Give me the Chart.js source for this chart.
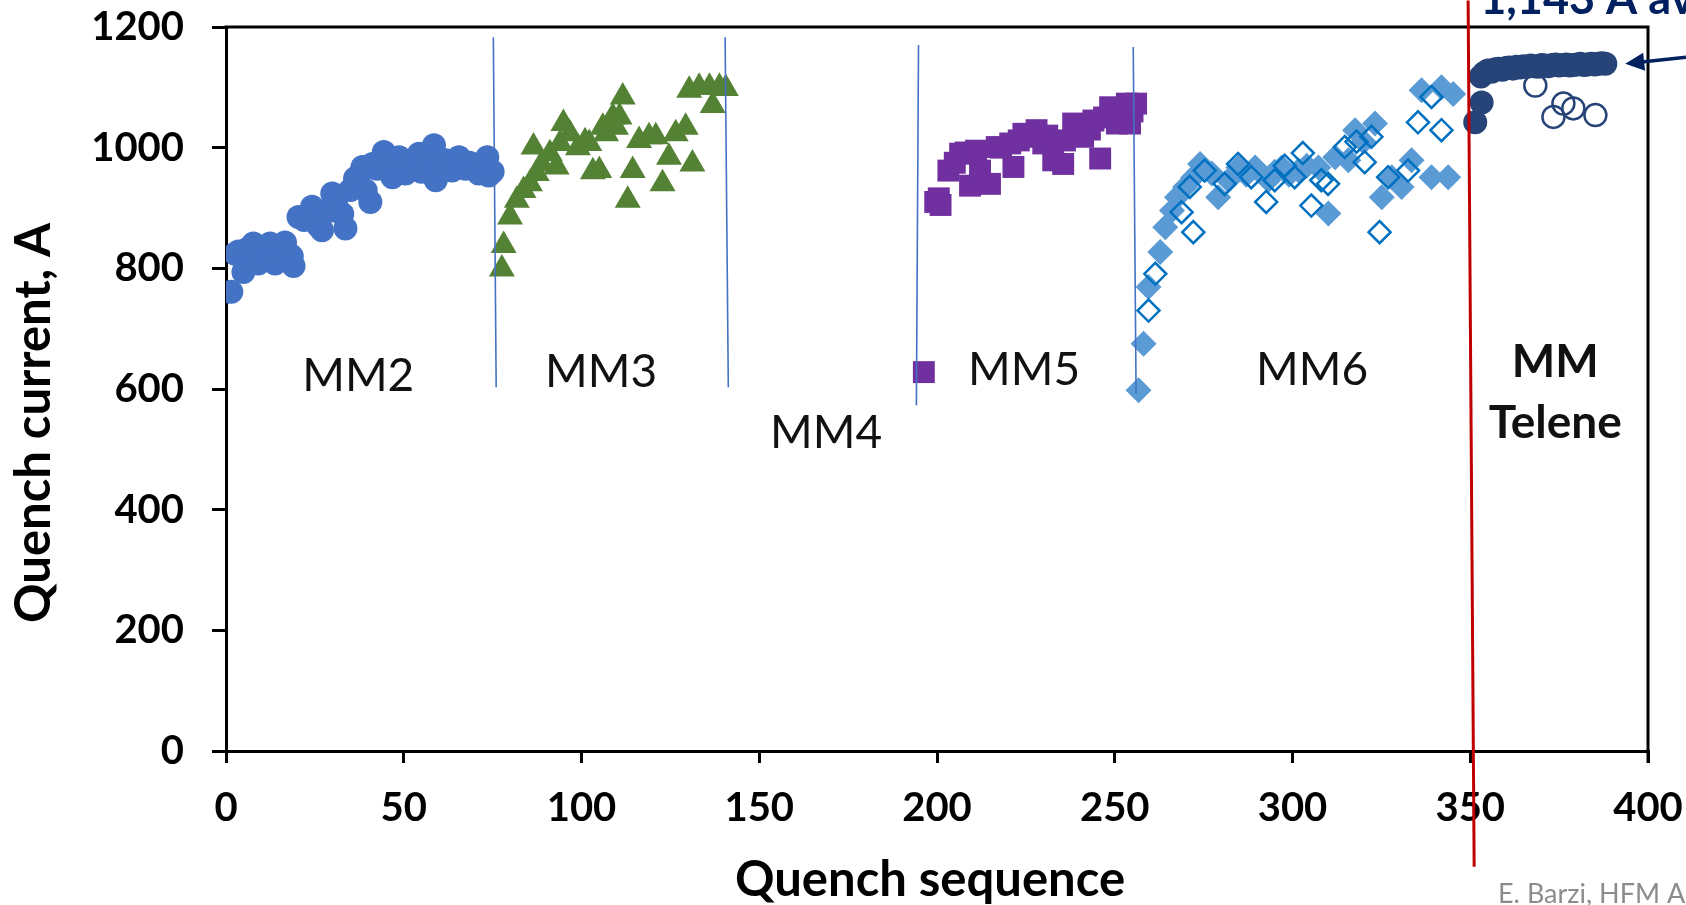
<!DOCTYPE html>
<html>
<head>
<meta charset="utf-8">
<script src="https://cdn.jsdelivr.net/npm/chart.js@4.4.0/dist/chart.umd.min.js"></script>
<style>
  html, body { margin: 0; padding: 0; background: #fff; }
  #wrap { width: 1686px; height: 905px; position: relative; }
</style>
</head>
<body>
<div id="wrap"><canvas id="chart"></canvas></div>
<script>
// axis ranges / ticks
const xRange = [0, 400];
const yRange = [0, 1200];
const xStep = 50;
const yStep = 200;

// quench data [sequence, current A]
const mm2Points = [
  [1.5,761],[2.6,824],[3.5,828],[4.9,794],[6,832],[7.7,841],[8.5,820],[9.1,808],[10.5,830],[11.6,824],
  [12.4,841],[13.8,808],[15,830],[16.6,843],[17.5,825],[18.5,820],[19,804],[20.4,885],[22,880],[24.2,902],
  [25.1,880],[26,870],[27,863],[28,895],[29.4,896],[29.9,924],[31,905],[32.7,890],[33.6,866],[35,930],
  [36.3,949],[37.5,955],[38.4,968],[39.3,929],[40.6,910],[41.2,973],[42.5,965],[44.4,993],[45.5,970],[46.8,951],
  [48.7,984],[50.5,957],[51.5,975],[52.4,979],[54.3,990],[55,960],[56.2,973],[57.5,985],[58.5,1004],[59,946],
  [60.5,970],[61.8,979],[63.6,962],[64.5,975],[65.5,984],[67.4,965],[68.5,975],[69.2,973],[71.1,957],[72,968],
  [73.5,984],[73.9,954],[75,960]
];
const mm3Points = [
  [77.6,799],[78.1,838],[79.9,885],[81.8,913],[83.7,929],[85.5,940],[86.5,1001],[87.4,957],[88.8,973],[91.1,990],
  [93,968],[94,1007],[94.9,1040],[96.7,1023],[99,1000],[101,1010],[102.2,1007],[103.2,960],[105,962],[106,1034],
  [106.9,1023],[108.8,1051],[109.7,1034],[110.7,1051],[111.6,1084],[113,913],[114.4,962],[116.2,1012],[119,1018],[120.9,1018],
  [122.8,940],[124.6,984],[126.5,1023],[129.3,1034],[131.2,973],[130.3,1095],[133.1,1100],[136,1100],[136.9,1070],[138.8,1100],
  [140.6,1098]
];
const mm5Points = [
  [196.3,628],[199.5,910],[200.5,916],[201,905],[203.2,962],[205,975],[206.5,990],[208,992],[209.3,937],[211,995],
  [212.1,962],[214.9,940],[216.8,1001],[218,1000],[220.6,1007],[221.5,968],[223,1012],[224.3,1023],[226,1018],[228,1029],
  [229.9,1007],[231,1020],[232.7,979],[235.5,973],[236,1012],[238.3,1040],[240,1030],[241.1,1018],[243,1030],[244,1045],
  [245.9,982],[247,1050],[248.7,1067],[250.6,1040],[252,1060],[253.4,1073],[254.3,1040],[255,1060],[256,1073]
];
const mm6Filled = [
  [256.7,598],[258.1,675],[259.5,769],[262.8,827],[264.2,868],[266.1,896],[267.5,918],[269.8,935],[272,950],[274,973],
  [277.3,957],[279.1,918],[282,946],[284.8,967],[287,955],[289.5,967],[293.2,946],[295,960],[297,967],[299,955],
  [301.7,962],[304,970],[307.3,967],[310.1,891],[312,984],[315.7,979],[317.6,1029],[320,1010],[323.2,1040],[325.1,918],
  [327.9,951],[330.7,935],[333.5,979],[336.3,1095],[339.1,951],[341.9,1100],[343.8,951],[345.2,1089]
];
const mm6Open = [
  [259.5,730],[261.4,791],[268.8,893],[271.1,935],[272.1,860],[275.3,962],[280.9,940],[284.7,973],[288.4,951],[292.6,910],
  [295,946],[297.8,970],[300.6,951],[302.9,991],[305.3,904],[308.1,946],[310,940],[314.7,1001],[318,1010],[320.3,976],
  [322.2,1018],[324.5,860],[326.9,951],[332.5,962],[335.3,1042],[339.1,1084],[341.9,1029]
];
const teleneFilled = [
  [351.4,1042],[353.2,1075],[353,1118],[354,1124],[355,1128],[356,1126],[357,1130],[358,1131],[359,1129],[360,1132],
  [361,1133],[362,1131],[363,1134],[364,1133],[365,1135],[366,1134],[367,1136],[368,1135],[369,1134],[370,1137],
  [371,1136],[372,1135],[373,1137],[374,1138],[375,1136],[376,1137],[377,1138],[378,1136],[379,1137],[380,1138],
  [381,1139],[382,1137],[383,1138],[384,1139],[385,1138],[386,1139],[387,1140],[388,1139]
];
const teleneOpen = [[368.3,1103],[373.4,1051],[376.2,1073],[379.0,1065],[385.2,1054]];

// magnet boundaries and the red marker line [sequence, current]
const separators = [
  [[75.2,1183],[76.0,603]],
  [[140.4,1183],[141.3,603]],
  [[194.8,1170],[194.2,573]],
  [[255.2,1167],[256.0,593]]
];
const redLine = [[349.4,1244],[351.1,-192]];

// block labels placed in data units
const blockLabels = [
  { text: 'MM2', x: 37.2, y: 621, bold: false },
  { text: 'MM3', x: 105.5, y: 628, bold: false },
  { text: 'MM4', x: 168.8, y: 526, bold: false },
  { text: 'MM5', x: 224.5, y: 632, bold: false },
  { text: 'MM6', x: 305.5, y: 632, bold: false },
  { text: 'MM', x: 373.9, y: 644, bold: true },
  { text: 'Telene', x: 373.9, y: 543, bold: true }
];
const noteText = '1,143 A average';
const noteAt = [352.8, 1222];
const arrowTip = [393.6, 1139];
const arrowTail = [410.7, 1150];
const creditText = 'E. Barzi, HFM A';

const toXY = pts => pts.map(p => ({ x: p[0], y: p[1] }));
const FONT = 'Lato, "Open Sans", sans-serif';

const lineSets = separators.map(seg => ({
  data: toXY(seg), showLine: true, pointRadius: 0,
  borderColor: '#4472C4', borderWidth: 1.6
}));

const decorations = {
  id: 'decorations',
  beforeDatasetsDraw(chart) {
    const { ctx, chartArea: a } = chart;
    ctx.save();
    ctx.strokeStyle = '#000';
    ctx.lineWidth = 3;
    ctx.beginPath();
    ctx.moveTo(a.left - 1.5, a.top);
    ctx.lineTo(a.right, a.top);
    ctx.lineTo(a.right, a.bottom + 12);
    ctx.stroke();
    ctx.restore();
  },
  afterDatasetsDraw(chart) {
    const { ctx, scales: { x, y } } = chart;
    ctx.save();
    ctx.fillStyle = '#111';
    ctx.textAlign = 'center';
    ctx.textBaseline = 'middle';
    blockLabels.forEach(l => {
      ctx.font = (l.bold ? 'bold ' : '') + '46px ' + FONT;
      ctx.fillText(l.text, x.getPixelForValue(l.x), y.getPixelForValue(l.y));
    });

    // axis titles
    ctx.fillStyle = '#000';
    ctx.font = 'bold 49px ' + FONT;
    ctx.textBaseline = 'alphabetic';
    ctx.fillText('Quench sequence', 930, 896);
    ctx.save();
    ctx.translate(50, 423);
    ctx.rotate(-Math.PI / 2);
    ctx.font = 'bold 49px ' + FONT;
    ctx.fillText('Quench current, A', 0, 0);
    ctx.restore();

    // note + arrow
    ctx.fillStyle = '#002060';
    ctx.textAlign = 'left';
    ctx.font = 'bold 45px ' + FONT;
    ctx.fillText(noteText, x.getPixelForValue(noteAt[0]), y.getPixelForValue(noteAt[1]));

    const tx = x.getPixelForValue(arrowTip[0]), ty = y.getPixelForValue(arrowTip[1]);
    const sx = x.getPixelForValue(arrowTail[0]), sy = y.getPixelForValue(arrowTail[1]);
    const ang = Math.atan2(ty - sy, tx - sx);
    ctx.strokeStyle = '#002060';
    ctx.lineWidth = 3.5;
    ctx.beginPath();
    ctx.moveTo(sx, sy);
    ctx.lineTo(tx - Math.cos(ang) * 12, ty - Math.sin(ang) * 12);
    ctx.stroke();
    ctx.beginPath();
    ctx.moveTo(tx, ty);
    ctx.lineTo(tx - Math.cos(ang) * 19 - Math.sin(ang) * 9, ty - Math.sin(ang) * 19 + Math.cos(ang) * 9);
    ctx.lineTo(tx - Math.cos(ang) * 19 + Math.sin(ang) * 9, ty - Math.sin(ang) * 19 - Math.cos(ang) * 9);
    ctx.closePath();
    ctx.fill();

    // credit
    ctx.fillStyle = '#8c8c8c';
    ctx.font = '27px ' + FONT;
    ctx.fillText(creditText, 1498, 903);
    ctx.restore();
  }
};

const plainNumber = v => String(v);

new Chart(document.getElementById('chart'), {
  type: 'scatter',
  data: {
    datasets: [
      { data: toXY(redLine), showLine: true, pointRadius: 0, borderColor: '#C00000', borderWidth: 3, clip: false },
      ...lineSets,
      { data: toXY(teleneOpen), pointStyle: 'circle', pointRadius: 11, backgroundColor: 'rgba(255,255,255,0)', borderColor: '#264478', pointBorderWidth: 2.5 },
      { data: toXY(teleneFilled), pointStyle: 'circle', pointRadius: 12, backgroundColor: '#264478', borderColor: '#264478', pointBorderWidth: 0 },
      { data: toXY(mm6Open), pointStyle: 'rectRot', pointRadius: 11, backgroundColor: 'rgba(255,255,255,0)', borderColor: '#0070C0', pointBorderWidth: 2.5 },
      { data: toXY(mm6Filled), pointStyle: 'rectRot', pointRadius: 13, backgroundColor: '#5B9BD5', borderColor: '#5B9BD5', pointBorderWidth: 0 },
      { data: toXY(mm5Points), pointStyle: 'rect', pointRadius: 15.5, backgroundColor: '#7030A0', borderColor: '#7030A0', pointBorderWidth: 0 },
      { data: toXY(mm3Points), pointStyle: 'triangle', pointRadius: 15, backgroundColor: '#548235', borderColor: '#548235', pointBorderWidth: 0 },
      { data: toXY(mm2Points), pointStyle: 'circle', pointRadius: 12, backgroundColor: '#4472C4', borderColor: '#4472C4', pointBorderWidth: 0 }
    ]
  },
  options: {
    responsive: true,
    maintainAspectRatio: false,
    animation: false,
    events: [],
    layout: { padding: { top: 27, right: 38, bottom: 0, left: 0 } },
    plugins: { legend: { display: false }, tooltip: { enabled: false } },
    scales: {
      x: {
        type: 'linear', min: xRange[0], max: xRange[1],
        afterFit(s) { s.height = 154; s.paddingLeft = 0; s.paddingRight = 0; },
        ticks: { stepSize: xStep, color: '#000', padding: 21, maxRotation: 0, callback: plainNumber,
                 font: { family: FONT, weight: 'bold', size: 40 } },
        grid: { drawOnChartArea: false, drawTicks: true, tickLength: 12, color: '#000', lineWidth: 3 },
        border: { display: true, color: '#000', width: 3 }
      },
      y: {
        type: 'linear', min: yRange[0], max: yRange[1],
        afterFit(s) { s.width = 226; s.paddingTop = 0; s.paddingBottom = 0; },
        ticks: { stepSize: yStep, color: '#000', padding: 28, callback: plainNumber,
                 font: { family: FONT, weight: 'bold', size: 40 } },
        grid: { drawOnChartArea: false, drawTicks: true, tickLength: 14, color: '#000', lineWidth: 3 },
        border: { display: true, color: '#000', width: 3 }
      }
    }
  },
  plugins: [decorations]
});
</script>
</body>
</html>
